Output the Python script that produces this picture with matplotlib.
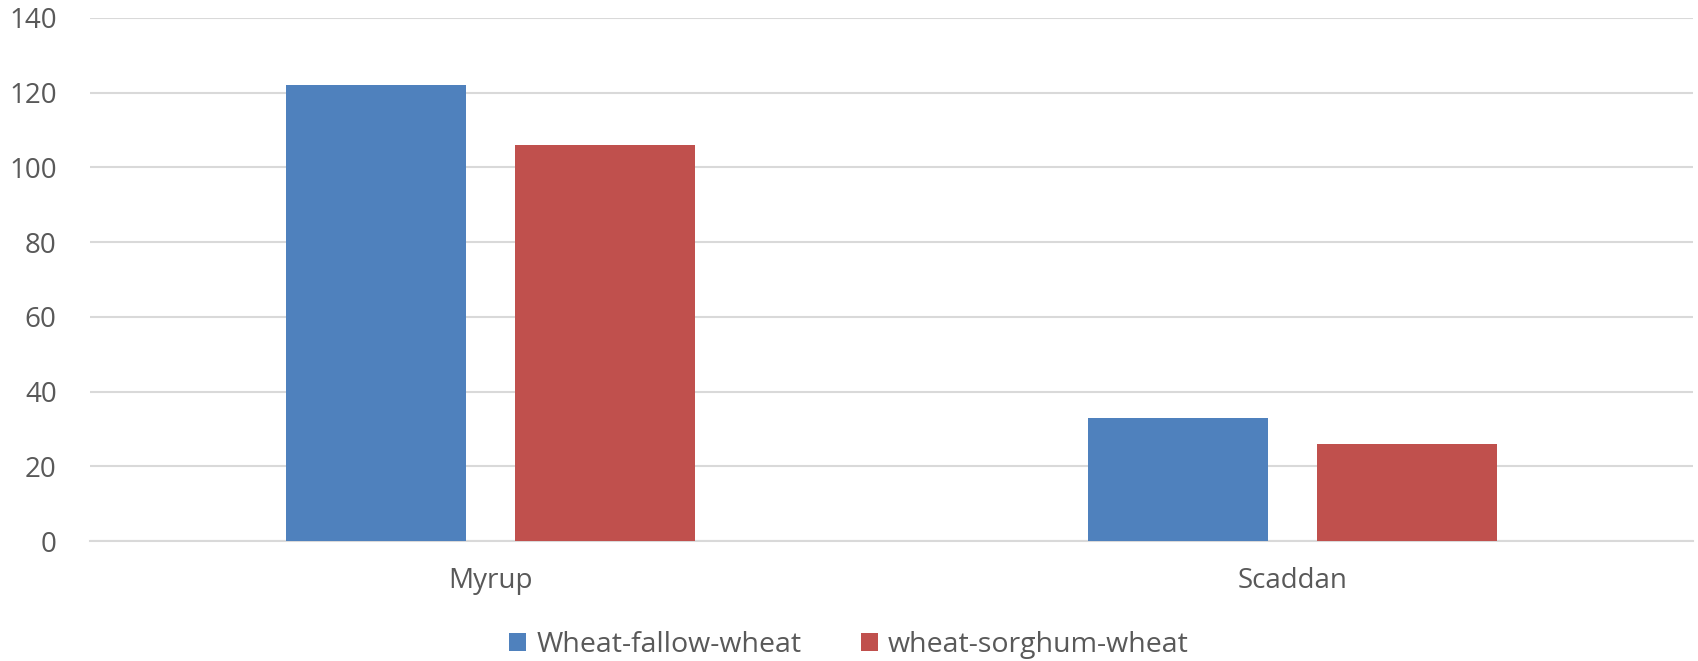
import numpy as np
import matplotlib.pyplot as plt

plt.rcParams['font.family'] = ['Open Sans', 'DejaVu Sans']

sites = ['Myrup', 'Scaddan']
fallow = [122, 33]
sorghum = [106, 26]
yticks = [0, 20, 40, 60, 80, 100, 120, 140]

fig = plt.figure(figsize=(16.98, 6.61), dpi=100)
ax = fig.add_axes([0.053, 0.1815, 0.944, 0.7913])

x = np.arange(len(sites))
w = 0.2246
ax.bar(x - 0.1428, fallow, w, color='#4F81BD', label='Wheat-fallow-wheat', zorder=3)
ax.bar(x + 0.1428, sorghum, w, color='#C0504D', label='wheat-sorghum-wheat', zorder=3)

ax.set_xlim(-0.5, 1.5)
ax.set_ylim(0, 140)
ax.set_yticks(yticks)
ax.set_xticks(x)
ax.set_xticklabels(sites)
ax.yaxis.grid(True, color='#D9D9D9', linewidth=1.5, zorder=0)
ax.set_axisbelow(True)
for s in ['top', 'right', 'left']:
    ax.spines[s].set_visible(False)
ax.spines['bottom'].set_color('#D9D9D9')
ax.spines['bottom'].set_linewidth(1.5)
ax.tick_params(axis='both', length=0, labelsize=20, labelcolor='#595959')
ax.tick_params(axis='y', pad=24)
ax.tick_params(axis='x', pad=19)

leg = fig.legend(loc='lower center', bbox_to_anchor=(0.5, -0.036), ncol=2, frameon=False,
                 fontsize=20.5, handlelength=0.6, handleheight=0.6, handletextpad=0.35,
                 columnspacing=2.1)
for t in leg.get_texts():
    t.set_color('#595959')

fig.savefig('out.png', dpi=100)
